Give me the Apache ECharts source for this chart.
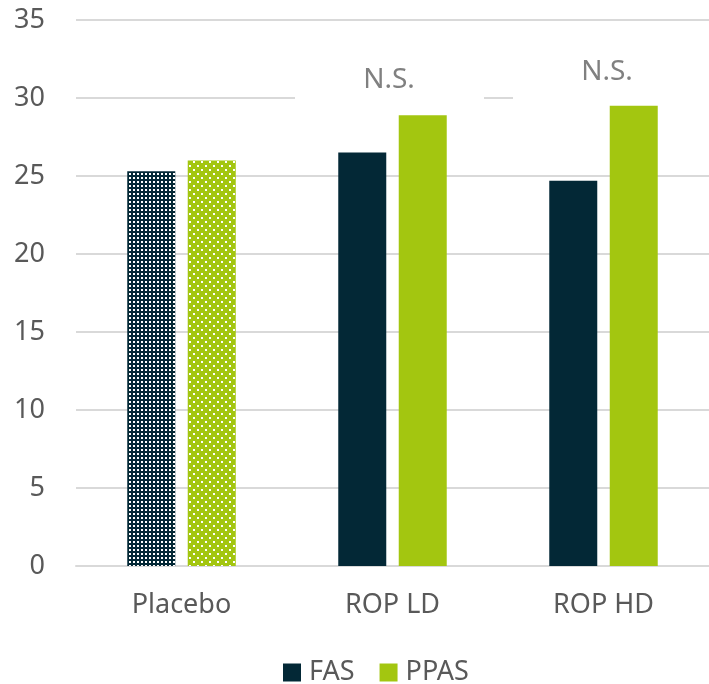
<!DOCTYPE html>
<html>
<head>
<meta charset="utf-8">
<script src="https://cdn.jsdelivr.net/npm/echarts@6/dist/echarts.min.js"></script>
<style>
  html, body { margin: 0; padding: 0; background: #ffffff; }
  #chart { width: 709px; height: 684px; }
</style>
</head>
<body>
<div id="chart"></div>
<script>
// Chart data
const categories = ['Placebo', 'ROP LD', 'ROP HD'];
const fasValues = [25.3, 26.5, 24.7];
const ppasValues = [26.0, 28.9, 29.5];
const seriesNames = ['FAS', 'PPAS'];
const noteText = 'N.S.';

const FONT = 'Noto Sans';
const DARK = '#032836';
const LIME = '#a3c610';
const TEXT = '#595959';

// Dotted fills for the placebo bars
function makePattern(bg, size, dots, dotSize) {
  const c = document.createElement('canvas');
  c.width = size; c.height = size;
  const g = c.getContext('2d');
  g.fillStyle = bg;
  g.fillRect(0, 0, size, size);
  g.fillStyle = '#ffffff';
  dots.forEach(function (d) { g.fillRect(d[0], d[1], dotSize, dotSize); });
  return { image: c, repeat: 'repeat' };
}
const darkDots = makePattern(DARK, 4, [[1, 1]], 2);
const limeDots = makePattern(LIME, 8, [[1, 1], [5, 5]], 2);

function withPlaceboPattern(values, pattern) {
  return values.map(function (v, i) {
    return i === 0 ? { value: v, itemStyle: { color: pattern } } : v;
  });
}

const chart = echarts.init(document.getElementById('chart'), null, { renderer: 'canvas' });

chart.setOption({
  animation: false,
  backgroundColor: '#ffffff',
  textStyle: { fontFamily: FONT },
  grid: { left: 76, width: 638, top: 20, bottom: 118, containLabel: false },
  legend: {
    data: seriesNames,
    top: 654,
    left: 278,
    itemWidth: 18,
    itemHeight: 18,
    itemGap: 25,
    icon: 'rect',
    textStyle: { fontFamily: FONT, fontSize: 27, color: TEXT, padding: [0, 0, 0, 3] }
  },
  xAxis: {
    type: 'category',
    data: categories,
    axisLine: { show: true, lineStyle: { color: '#d9d9d9', width: 2 } },
    axisTick: { show: false },
    axisLabel: { fontFamily: FONT, fontSize: 27, color: TEXT, margin: 26 }
  },
  yAxis: {
    type: 'value',
    min: 0,
    max: 35,
    interval: 5,
    axisLine: { show: false },
    axisTick: { show: false },
    splitLine: { lineStyle: { color: '#d9d9d9', width: 2 } },
    axisLabel: { fontFamily: FONT, fontSize: 27, color: TEXT, margin: 31 }
  },
  series: [
    {
      name: seriesNames[0],
      type: 'bar',
      barWidth: 48,
      barGap: '26%',
      itemStyle: { color: DARK },
      data: withPlaceboPattern(fasValues, darkDots)
    },
    {
      name: seriesNames[1],
      type: 'bar',
      barWidth: 48,
      barGap: '26%',
      itemStyle: { color: LIME },
      data: withPlaceboPattern(ppasValues, limeDots)
    }
  ],
  graphic: [
    { type: 'rect', shape: { x: 295, y: 60, width: 189, height: 46 }, style: { fill: '#ffffff' }, z: 50 },
    { type: 'rect', shape: { x: 513, y: 52, width: 196, height: 52 }, style: { fill: '#ffffff' }, z: 50 },
    {
      type: 'text', x: 389, y: 80, z: 51,
      style: { text: noteText, fontFamily: FONT, fontSize: 28, fill: '#808080', align: 'center', verticalAlign: 'middle' }
    },
    {
      type: 'text', x: 607, y: 72, z: 51,
      style: { text: noteText, fontFamily: FONT, fontSize: 28, fill: '#808080', align: 'center', verticalAlign: 'middle' }
    }
  ]
});
</script>
</body>
</html>
